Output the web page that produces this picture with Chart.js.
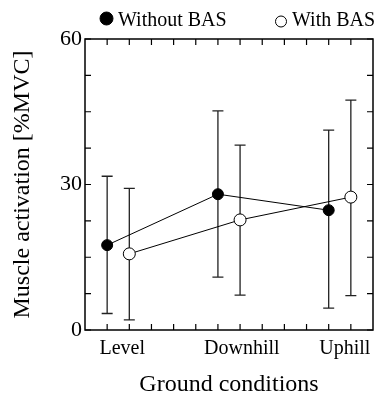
<!DOCTYPE html>
<html>
<head>
<meta charset="utf-8">
<script src="https://cdn.jsdelivr.net/npm/chart.js@4.4.1/dist/chart.umd.min.js"></script>
<style>
  html, body { margin: 0; padding: 0; background: #fff; }
  #wrap { width: 380px; height: 396px; }
</style>
</head>
<body>
<div id="wrap"><canvas id="emgChart"></canvas></div>
<script>
// ground conditions and where their labels sit on the 0..13 x scale
const categories = ["Level", "Downhill", "Uphill"];
const labelPos = [1.68, 7.08, 11.73];

// x slots of the two groups
const xWithout = [1, 6, 11];
const xWith = [2, 7, 12];

// muscle activation [%MVC], mean and error bar ends
const meanWithout = [17.5, 28.0, 24.7];
const upperWithout = [31.7, 45.2, 41.2];
const lowerWithout = [3.4, 10.9, 4.5];

const meanWith = [15.7, 22.7, 27.4];
const upperWith = [29.2, 38.1, 47.4];
const lowerWith = [2.1, 7.2, 7.1];

const yTicks = [0, 30, 60];

const serif = "'Liberation Serif', 'Times New Roman', serif";
Chart.defaults.color = "#000";
Chart.defaults.font.family = serif;

// error bars drawn under the points
const errorBars = {
    id: "errorBars",
    beforeDatasetsDraw(chart) {
        const {ctx} = chart;
        const xs = chart.scales.x;
        const ys = chart.scales.y;
        ctx.save();
        ctx.strokeStyle = "#222";
        ctx.lineWidth = 1.3;
        [[xWithout, upperWithout, lowerWithout], [xWith, upperWith, lowerWith]].forEach(([xv, up, lo]) => {
            xv.forEach((v, i) => {
                const px = xs.getPixelForValue(v);
                const top = ys.getPixelForValue(up[i]);
                const bot = ys.getPixelForValue(lo[i]);
                ctx.beginPath();
                ctx.moveTo(px, top); ctx.lineTo(px, bot);
                ctx.moveTo(px - 5.5, top); ctx.lineTo(px + 5.5, top);
                ctx.moveTo(px - 5.5, bot); ctx.lineTo(px + 5.5, bot);
                ctx.stroke();
            });
        });
        ctx.restore();
    }
};

// frame with inward tick marks on all four sides
const frameTicks = {
    id: "frameTicks",
    afterDraw(chart) {
        const {ctx, chartArea: a} = chart;
        const xs = chart.scales.x;
        const ys = chart.scales.y;
        ctx.save();
        ctx.strokeStyle = "#000";
        ctx.lineWidth = 1.2;
        ctx.beginPath();
        for (let v = xs.min + 1; v < xs.max; v++) {
            const px = xs.getPixelForValue(v);
            ctx.moveTo(px, a.bottom); ctx.lineTo(px, a.bottom - 6);
            ctx.moveTo(px, a.top); ctx.lineTo(px, a.top + 6);
        }
        ys.ticks.forEach(t => {
            const py = ys.getPixelForValue(t.value);
            ctx.moveTo(a.left, py); ctx.lineTo(a.left + 6, py);
            ctx.moveTo(a.right, py); ctx.lineTo(a.right - 6, py);
        });
        ctx.stroke();
        ctx.lineWidth = 1.5;
        ctx.strokeRect(a.left, a.top, a.right - a.left, a.bottom - a.top);
        ctx.restore();
    }
};

// legend above the frame: marker + label for each dataset
const topLegend = {
    id: "topLegend",
    afterDraw(chart, args, opts) {
        const {ctx} = chart;
        ctx.save();
        ctx.font = "20px " + serif;
        ctx.textBaseline = "alphabetic";
        chart.data.datasets.forEach((ds, i) => {
            const it = opts.items[i];
            ctx.beginPath();
            ctx.arc(it.x, it.y, it.r, 0, Math.PI * 2);
            ctx.fillStyle = ds.backgroundColor;
            ctx.fill();
            ctx.lineWidth = 1;
            ctx.strokeStyle = ds.borderColor;
            ctx.stroke();
            ctx.fillStyle = "#000";
            ctx.fillText(ds.label, it.textX, opts.baseline);
        });
        ctx.restore();
    }
};

const ctx = document.getElementById("emgChart").getContext("2d");

new Chart(ctx, {
    type: "line",
    data: {
        datasets: [
            {
                label: "Without BAS",
                data: xWithout.map((x, i) => ({x: x, y: meanWithout[i]})),
                borderColor: "#000",
                backgroundColor: "#000",
                borderWidth: 1,
                pointRadius: 5.5,
                pointBorderWidth: 1,
                pointStyle: "circle",
                tension: 0
            },
            {
                label: "With BAS",
                data: xWith.map((x, i) => ({x: x, y: meanWith[i]})),
                borderColor: "#000",
                backgroundColor: "#fff",
                borderWidth: 1,
                pointRadius: 6,
                pointBorderWidth: 1,
                pointStyle: "circle",
                tension: 0
            }
        ]
    },
    options: {
        responsive: true,
        maintainAspectRatio: false,
        animation: false,
        layout: {
            padding: {left: 0, right: 4, top: 39, bottom: 0}
        },
        plugins: {
            tooltip: {enabled: false},
            legend: {display: false},
            topLegend: {
                baseline: 25.5,
                items: [
                    {x: 106.5, y: 18.5, r: 6.5, textX: 118},
                    {x: 281, y: 21.5, r: 5.5, textX: 292}
                ]
            }
        },
        scales: {
            x: {
                type: "linear",
                min: 0,
                max: 13,
                border: {display: false},
                grid: {display: false, drawTicks: false},
                afterBuildTicks: function(scale) {
                    scale.ticks = labelPos.map(v => ({value: v}));
                },
                afterFit: function(scale) {
                    scale.height = 66;
                },
                ticks: {
                    autoSkip: false,
                    maxRotation: 0,
                    padding: 7,
                    font: {size: 20},
                    callback: (v, i) => categories[i]
                },
                title: {
                    display: true,
                    text: "Ground conditions",
                    font: {size: 24, lineHeight: 1},
                    padding: {top: 0, bottom: -1}
                }
            },
            y: {
                min: 0,
                max: 60,
                border: {display: false},
                grid: {display: false, drawTicks: false},
                afterFit: function(scale) {
                    scale.width = 85;
                },
                ticks: {
                    stepSize: 7.5,
                    padding: 3,
                    font: {size: 22},
                    callback: v => yTicks.includes(v) ? v : ""
                },
                title: {
                    display: true,
                    text: "Muscle activation [%MVC]",
                    font: {size: 24},
                    padding: {top: 8, bottom: 0}
                }
            }
        }
    },
    plugins: [errorBars, frameTicks, topLegend]
});
</script>
</body>
</html>
